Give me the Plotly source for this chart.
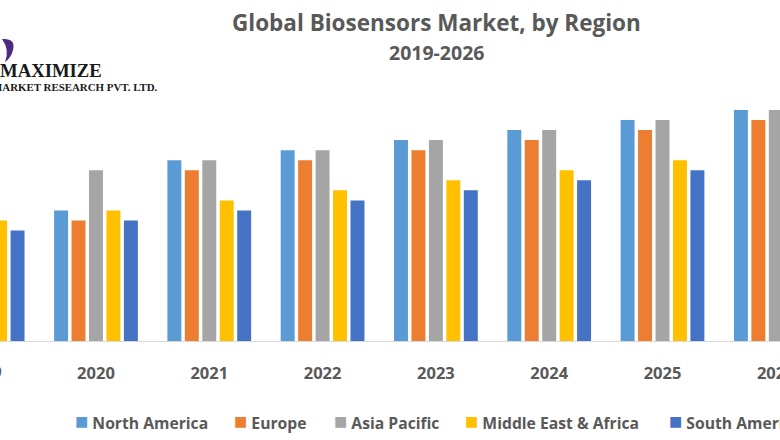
import plotly.graph_objects as go

# values (2019 group is mostly cut off, so partly estimated)
years = ['2019', '2020', '2021', '2022', '2023', '2024', '2025', '2026']
north_america = [12, 13, 18, 19, 20, 21, 22, 23]
europe = [11, 12, 17, 18, 19, 20, 21, 22]
asia_pacific = [13, 17, 18, 19, 20, 21, 22, 23]
middle_east_africa = [12, 13, 14, 15, 16, 17, 18, 19]
south_america = [11, 12, 13, 14, 15, 16, 17, 18]

series = [
    ('North America', north_america, '#5B9BD5'),
    ('Europe', europe, '#ED7D31'),
    ('Asia Pacific', asia_pacific, '#A5A5A5'),
    ('Middle East &amp; Africa', middle_east_africa, '#FFC000'),
    ('South America', south_america, '#4472C4'),
]
legend_x = [73, 232, 332, 463, 667]

WIDTH = 780
HEIGHT = 440
FONT = 'Open Sans'
TEXT = '#595959'


def px(x):
    return x / WIDTH


def py(y):
    return 1 - y / 341


fig = go.Figure()
for name, values, color in series:
    fig.add_trace(go.Bar(x=years, y=values, name=name, marker=dict(color=color, line=dict(width=0))))

annotations = [
    dict(text='Global Biosensors Market, by Region', x=px(436), y=py(23), font=dict(size=22.5, color=TEXT, family=FONT, weight=700)),
    dict(text='2019-2026', x=px(436), y=py(53), font=dict(size=19.5, color=TEXT, family=FONT, weight=700)),
    # 2019 sits outside the visible range, plotly drops its tick label
    dict(text='2019', x=px(-17), y=py(371), font=dict(size=16.5, color=TEXT, family=FONT, weight=700)),
    # logo text
    dict(text='MAXIMIZE', x=px(-2), y=py(70), xanchor='left', font=dict(size=18.7, color='#1a1a1a', family='Liberation Serif', weight=700)),
    dict(text='MARKET RESEARCH PVT. LTD.', x=px(-10), y=py(87), xanchor='left', font=dict(size=10.9, color='#1a1a1a', family='Liberation Serif', weight=700)),
]

# hand made legend, the built in one wraps instead of running off the page
for (name, values, color), x in zip(series, legend_x):
    annotations.append(dict(
        text=f'<span style="color:{color};font-size:22px">■</span> {name}',
        x=px(x), y=py(420), xanchor='left',
        font=dict(size=15.7, color=TEXT, family=FONT, weight=700),
    ))

for a in annotations:
    a.update(xref='paper', yref='paper', showarrow=False)
    a.setdefault('xanchor', 'center')
    a.setdefault('yanchor', 'middle')

fig.update_layout(
    width=WIDTH,
    height=HEIGHT,
    margin=dict(l=0, r=0, t=0, b=HEIGHT - 341),
    paper_bgcolor='white',
    plot_bgcolor='white',
    showlegend=False,
    barmode='group',
    bargap=0.23,
    bargroupgap=0.2,
    annotations=annotations,
    # purple swoosh of the logo
    shapes=[dict(
        type='path', xref='paper', yref='paper', fillcolor='#4b2a7f', line=dict(width=0),
        path=f'M {px(2)} {py(39)} Q {px(16)} {py(38)} {px(13)} {py(50)} Q {px(11)} {py(58)} {px(5)} {py(62)} '
             f'Q {px(10)} {py(50)} {px(2)} {py(39)} Z',
    )],
    xaxis=dict(
        type='category',
        automargin=False,
        range=[0.153, 7.037],
        showgrid=False,
        showline=True,
        linecolor='#d9d9d9',
        linewidth=1,
        ticks='',
        ticklabelstandoff=17,
        tickfont=dict(size=16.5, color=TEXT, family=FONT, weight=700),
    ),
    yaxis=dict(range=[0, 33.95], visible=False, automargin=False),
)

# page default margin would shift the whole chart by 8px
fig.write_html('out.html', config=dict(displayModeBar=False),
               post_script="document.body.style.margin='0';document.body.style.overflow='hidden';")
